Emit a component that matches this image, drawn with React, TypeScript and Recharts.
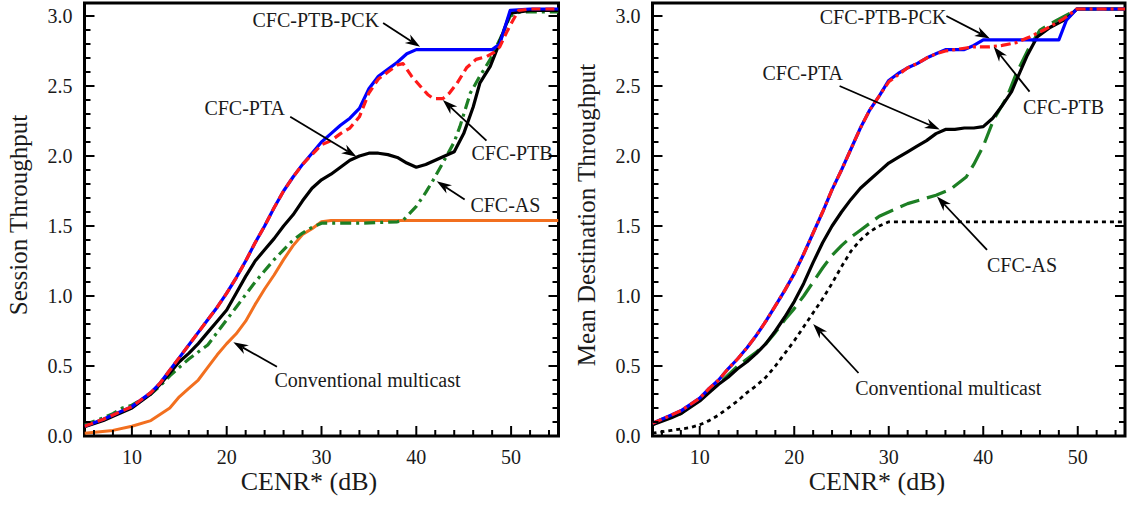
import React from 'react';
import { LineChart, Line, XAxis, YAxis, ReferenceArea, ReferenceLine, ReferenceDot, Label } from 'recharts';

type Pt = [number, number];

// left panel: session throughput vs CENR*
const sessionPck: Pt[] = [[5, 0.07], [7, 0.12], [8, 0.15], [10, 0.21], [12, 0.31], [13, 0.38], [14, 0.47], [15, 0.56], [16, 0.65], [17, 0.74], [18, 0.83], [19, 0.92], [20, 1.02], [21, 1.13], [22, 1.25], [23, 1.38], [24, 1.5], [25, 1.63], [26, 1.75], [27, 1.85], [28, 1.94], [29, 2.02], [30, 2.1], [31, 2.16], [32, 2.22], [33, 2.27], [34, 2.34], [35, 2.48], [36, 2.57], [37, 2.62], [38, 2.67], [39, 2.73], [40, 2.76], [44, 2.76], [48, 2.76], [48.8, 2.8], [49.9, 3.04], [52, 3.05], [55, 3.05]];
const sessionPtb: Pt[] = [[5, 0.07], [7, 0.12], [8, 0.15], [10, 0.21], [12, 0.31], [13, 0.38], [14, 0.47], [15, 0.56], [16, 0.65], [17, 0.74], [18, 0.83], [19, 0.92], [20, 1.02], [21, 1.13], [22, 1.25], [23, 1.38], [24, 1.5], [25, 1.63], [26, 1.75], [27, 1.85], [28, 1.94], [29, 2.01], [30, 2.08], [31, 2.11], [32, 2.16], [33, 2.2], [34, 2.28], [35, 2.45], [36, 2.55], [37, 2.6], [38, 2.65], [38.6, 2.66], [39.5, 2.57], [40.4, 2.5], [41.2, 2.44], [41.8, 2.41], [42.8, 2.41], [43.5, 2.45], [44.3, 2.52], [45.3, 2.63], [46.3, 2.69], [47.4, 2.71], [48.2, 2.74], [48.8, 2.78], [49.5, 2.88], [50.2, 2.97], [50.8, 3.04], [52, 3.05], [55, 3.05]];
const sessionPta: Pt[] = [[5, 0.066], [7, 0.11], [8, 0.14], [10, 0.2], [12, 0.3], [13, 0.37], [14, 0.45], [15, 0.53], [16, 0.59], [17, 0.66], [18, 0.74], [19, 0.82], [20, 0.9], [21, 1.02], [22, 1.14], [23, 1.25], [24, 1.33], [25, 1.41], [26, 1.5], [27, 1.58], [28, 1.68], [29, 1.77], [30, 1.83], [31, 1.87], [32, 1.92], [33, 1.97], [34, 2.0], [35, 2.02], [36, 2.02], [37, 2.01], [38, 1.99], [39, 1.95], [40, 1.92], [41, 1.94], [42, 1.97], [43, 2.0], [44, 2.03], [45, 2.16], [46, 2.35], [46.7, 2.52], [47.8, 2.64], [48.5, 2.76], [49.9, 3.02], [52, 3.04], [55, 3.04]];
const sessionAs: Pt[] = [[5, 0.08], [7, 0.13], [8, 0.16], [9, 0.2], [10, 0.22], [12, 0.3], [13, 0.36], [14, 0.43], [15, 0.49], [16, 0.55], [17, 0.6], [18, 0.65], [19, 0.74], [20, 0.83], [21, 0.92], [22, 1.01], [23, 1.1], [24, 1.18], [25, 1.26], [26, 1.33], [27, 1.4], [28, 1.45], [29, 1.49], [30, 1.52], [34, 1.52], [38, 1.53], [38.6, 1.54], [40, 1.64], [41, 1.74], [41.8, 1.83], [43.2, 2.0], [44, 2.1], [44.6, 2.21], [45.7, 2.45], [46.7, 2.57], [47.8, 2.69], [48.8, 2.83], [49.9, 3.0], [51, 3.03], [55, 3.03]];
const sessionConv: Pt[] = [[5, 0.02], [8, 0.04], [10, 0.07], [12, 0.11], [14, 0.2], [15, 0.28], [16, 0.34], [17, 0.4], [18, 0.49], [19, 0.58], [20, 0.66], [21, 0.73], [22, 0.82], [23, 0.94], [24, 1.05], [25, 1.15], [26, 1.26], [27, 1.36], [28, 1.44], [29, 1.48], [30, 1.53], [31, 1.54], [55, 1.54]];

// right panel: mean destination throughput vs CENR*
const destPck: Pt[] = [[5, 0.09], [7, 0.15], [8, 0.18], [10, 0.27], [11, 0.34], [12, 0.4], [13, 0.48], [14, 0.55], [15, 0.63], [16, 0.72], [17, 0.82], [18, 0.93], [19, 1.04], [20, 1.16], [21, 1.3], [22, 1.45], [23, 1.6], [24, 1.76], [25, 1.9], [26, 2.05], [27, 2.2], [28, 2.33], [29, 2.43], [30, 2.54], [31, 2.59], [32, 2.63], [33, 2.66], [34, 2.7], [35, 2.73], [36, 2.76], [38, 2.76], [39, 2.79], [40, 2.83], [44, 2.83], [48, 2.83], [48.8, 2.97], [49.9, 3.05], [55, 3.05]];
const destPtb: Pt[] = [[5, 0.09], [7, 0.15], [8, 0.18], [10, 0.27], [11, 0.34], [12, 0.4], [13, 0.48], [14, 0.55], [15, 0.63], [16, 0.72], [17, 0.82], [18, 0.93], [19, 1.04], [20, 1.16], [21, 1.3], [22, 1.45], [23, 1.6], [24, 1.76], [25, 1.9], [26, 2.05], [27, 2.2], [28, 2.33], [29, 2.43], [30, 2.53], [31, 2.58], [32, 2.63], [33, 2.66], [34, 2.7], [35, 2.73], [36, 2.75], [37, 2.76], [38, 2.77], [39, 2.78], [40.7, 2.78], [42, 2.79], [43.5, 2.81], [44.9, 2.85], [46.4, 2.9], [48.5, 2.98], [49.9, 3.05], [55, 3.05]];
const destPta: Pt[] = [[5, 0.08], [7, 0.13], [8, 0.16], [10, 0.25], [11, 0.31], [12, 0.37], [13, 0.42], [14, 0.48], [15, 0.53], [16, 0.59], [17, 0.66], [18, 0.75], [19, 0.85], [20, 0.96], [21, 1.09], [22, 1.24], [23, 1.38], [24, 1.5], [25, 1.6], [26, 1.69], [27, 1.77], [28, 1.83], [29, 1.89], [30, 1.95], [31, 1.99], [32, 2.03], [33, 2.07], [34, 2.11], [35, 2.16], [36, 2.19], [37, 2.19], [38, 2.2], [39, 2.2], [40, 2.21], [41, 2.27], [42, 2.36], [43, 2.46], [43.5, 2.54], [44.6, 2.71], [45.7, 2.85], [47.1, 2.92], [48.8, 2.98], [49.9, 3.05], [55, 3.05]];
const destAs: Pt[] = [[5, 0.08], [6, 0.12], [8, 0.16], [10, 0.27], [12, 0.37], [14, 0.5], [15, 0.55], [16, 0.6], [17, 0.66], [18, 0.74], [19, 0.83], [20, 0.91], [21, 1.0], [22, 1.1], [23, 1.2], [24, 1.29], [25, 1.36], [26, 1.42], [27, 1.47], [28, 1.52], [29, 1.57], [30, 1.6], [32, 1.66], [34, 1.7], [35, 1.72], [36.5, 1.76], [38.2, 1.85], [39, 1.94], [40, 2.07], [41.1, 2.26], [42.5, 2.42], [43.5, 2.59], [44.9, 2.78], [46, 2.9], [47.8, 2.97], [49.2, 3.02], [50, 3.05], [55, 3.05]];
const destConv: Pt[] = [[5, 0.02], [7, 0.04], [9, 0.06], [10, 0.08], [11, 0.11], [12, 0.15], [13, 0.2], [14, 0.25], [15, 0.31], [16, 0.36], [17, 0.42], [18, 0.5], [19, 0.59], [20, 0.68], [21, 0.78], [22, 0.88], [23, 0.98], [24, 1.09], [25, 1.21], [26, 1.32], [27, 1.4], [28, 1.46], [29, 1.5], [30, 1.53], [55, 1.53]];

const xTicks = [6, 8, 10, 12, 14, 16, 18, 20, 22, 24, 26, 28, 30, 32, 34, 36, 38, 40, 42, 44, 46, 48, 50, 52, 54];
const xLabels = [10, 20, 30, 40, 50];
const yTicks = [0, 0.1, 0.2, 0.3, 0.4, 0.5, 0.6, 0.7, 0.8, 0.9, 1.0, 1.1, 1.2, 1.3, 1.4, 1.5, 1.6, 1.7, 1.8, 1.9, 2.0, 2.1, 2.2, 2.3, 2.4, 2.5, 2.6, 2.7, 2.8, 2.9, 3.0];
const yLabels = [0, 0.5, 1.0, 1.5, 2.0, 2.5, 3.0];

const FONT = '"Liberation Serif", "Times New Roman", "DejaVu Serif", serif';
const PLOT_LEFT = 84.5;
const PLOT_BOTTOM = 436;
const Y_MAX = 3.093;

interface Series {
    name: string;
    data: Pt[];
    color: string;
    width: number;
    dash?: string;
}

interface Note {
    text: string;
    at: Pt;
    from: Pt;
    to: Pt;
}

const sessionSeries: Series[] = [
    { name: 'Conventional multicast', data: sessionConv, color: '#f26f1f', width: 3 },
    { name: 'CFC-AS', data: sessionAs, color: '#1d7f24', width: 3.2, dash: '11 5 3 5' },
    { name: 'CFC-PTA', data: sessionPta, color: '#000000', width: 3.2 },
    { name: 'CFC-PTB-PCK', data: sessionPck, color: '#0000ff', width: 3.2 },
    { name: 'CFC-PTB', data: sessionPtb, color: '#ff1a1a', width: 3.2, dash: '9 5' },
];

const destSeries: Series[] = [
    { name: 'Conventional multicast', data: destConv, color: '#000000', width: 2.8, dash: '4 4' },
    { name: 'CFC-AS', data: destAs, color: '#1d7f24', width: 3.2, dash: '20 8' },
    { name: 'CFC-PTA', data: destPta, color: '#000000', width: 3.2 },
    { name: 'CFC-PTB-PCK', data: destPck, color: '#0000ff', width: 3.2 },
    { name: 'CFC-PTB', data: destPtb, color: '#ff1a1a', width: 3.2, dash: '10 4 3 4' },
];

const sessionNotes: Note[] = [
    { text: 'CFC-PTB-PCK', at: [29.4, 2.97], from: [36.5, 2.95], to: [40.4, 2.78] },
    { text: 'CFC-PTA', at: [21.9, 2.34], from: [26.7, 2.28], to: [33.7, 1.995] },
    { text: 'CFC-PTB', at: [50.1, 2.02], from: [47.4, 2.11], to: [42.8, 2.4] },
    { text: 'CFC-AS', at: [49.4, 1.65], from: [45.1, 1.69], to: [42.15, 1.82] },
    { text: 'Conventional multicast', at: [34.85, 0.4], from: [25.3, 0.495], to: [20.7, 0.67] },
];

const destNotes: Note[] = [
    { text: 'CFC-PTB-PCK', at: [29.4, 2.99], from: [36.1, 3.0], to: [40.7, 2.84] },
    { text: 'CFC-PTA', at: [20.9, 2.59], from: [24.8, 2.5], to: [35.4, 2.19] },
    { text: 'CFC-PTB', at: [48.5, 2.35], from: [44.9, 2.46], to: [41.1, 2.78] },
    { text: 'CFC-AS', at: [44.1, 1.22], from: [40.4, 1.33], to: [35.1, 1.71] },
    { text: 'Conventional multicast', at: [36.3, 0.34], from: [26.8, 0.45], to: [22.0, 0.8] },
];

const toXY = (pts: Pt[]) => pts.map(([x, y]) => ({ x, y }));

const textStyle = (size: number): React.CSSProperties => ({ fontFamily: FONT, fontSize: size, fill: '#1a1a1a' });

const arrowShape = (p: any) => {
    const { x1, y1, x2, y2 } = p;
    const ang = Math.atan2(y2 - y1, x2 - x1);
    const c = Math.cos(ang);
    const s = Math.sin(ang);
    const L = 15;
    const W = 5;
    const bx = x2 - L * c;
    const by = y2 - L * s;
    const nx = x2 - L * 0.7 * c;
    const ny = y2 - L * 0.7 * s;
    const pts = `${x2},${y2} ${bx - W * s},${by + W * c} ${nx},${ny} ${bx + W * s},${by - W * c}`;
    return (
        <g>
            <line x1={x1} y1={y1} x2={nx} y2={ny} stroke="#000" strokeWidth={1.8} />
            <polygon points={pts} fill="#000" />
        </g>
    );
};

const noteText = (text: string) => (p: any) => (
    <text x={p.cx} y={p.cy + 7} textAnchor="middle" style={textStyle(20)}>
        {text}
    </text>
);

interface PanelProps {
    width: number;
    marginRight: number;
    series: Series[];
    notes: Note[];
    yTitle: string;
}

const Panel: React.FC<PanelProps> = ({ width, marginRight, series, notes, yTitle }) => {
    const plotRight = width - marginRight;

    const renderXTick = (props: any) => {
        const { x, payload } = props;
        const major = xLabels.includes(payload.value);
        return (
            <g>
                <line x1={x} x2={x} y1={PLOT_BOTTOM} y2={PLOT_BOTTOM - (major ? 10 : 6)} stroke="#000" strokeWidth={2} />
                {major && (
                    <text x={x} y={PLOT_BOTTOM + 28} textAnchor="middle" style={textStyle(20)}>
                        {payload.value}
                    </text>
                )}
            </g>
        );
    };

    const renderYTick = (props: any) => {
        const { y, payload } = props;
        const major = yLabels.some(v => Math.abs(v - payload.value) < 1e-6);
        const len = major ? 10 : 6;
        return (
            <g>
                <line x1={PLOT_LEFT} x2={PLOT_LEFT + len} y1={y} y2={y} stroke="#000" strokeWidth={2} />
                <line x1={plotRight} x2={plotRight - len} y1={y} y2={y} stroke="#000" strokeWidth={2} />
                {major && (
                    <text x={PLOT_LEFT - 12} y={y + 7} textAnchor="end" style={textStyle(20)}>
                        {Number(payload.value).toFixed(1)}
                    </text>
                )}
            </g>
        );
    };

    return (
        <LineChart width={width} height={508} margin={{ top: 3, right: marginRight, bottom: 0, left: 0 }}>
            <XAxis
                dataKey="x"
                type="number"
                domain={[5, 55]}
                ticks={xTicks}
                interval={0}
                height={72}
                axisLine={false}
                tickLine={false}
                tick={renderXTick}
                allowDataOverflow
            >
                <Label
                    content={() => (
                        <text x={309} y={490} textAnchor="middle" style={textStyle(26)}>
                            CENR* (dB)
                        </text>
                    )}
                />
            </XAxis>
            <YAxis
                type="number"
                domain={[0, Y_MAX]}
                ticks={yTicks}
                interval={0}
                width={PLOT_LEFT}
                axisLine={false}
                tickLine={false}
                tick={renderYTick}
                allowDataOverflow
            >
                <Label
                    content={() => (
                        <text x={27} y={215} transform="rotate(-90 27 215)" textAnchor="middle" style={textStyle(25)}>
                            {yTitle}
                        </text>
                    )}
                />
            </YAxis>
            {series.map(s => (
                <Line
                    key={s.name}
                    data={toXY(s.data)}
                    dataKey="y"
                    name={s.name}
                    type="linear"
                    stroke={s.color}
                    strokeWidth={s.width}
                    strokeDasharray={s.dash}
                    strokeLinejoin="round"
                    dot={false}
                    activeDot={false}
                    isAnimationActive={false}
                />
            ))}
            {notes.map(n => (
                <ReferenceLine
                    key={'a' + n.text}
                    segment={[{ x: n.from[0], y: n.from[1] }, { x: n.to[0], y: n.to[1] }]}
                    ifOverflow="visible"
                    shape={arrowShape}
                />
            ))}
            {notes.map(n => (
                <ReferenceDot
                    key={'t' + n.text}
                    x={n.at[0]}
                    y={n.at[1]}
                    r={0}
                    ifOverflow="visible"
                    shape={noteText(n.text)}
                />
            ))}
            <ReferenceArea x1={5} x2={55} y1={0} y2={Y_MAX} fill="none" stroke="#000" strokeWidth={3} ifOverflow="visible" />
        </LineChart>
    );
};

export default function App() {
    return (
        <div
            style={{
                position: 'absolute',
                left: 0,
                top: 0,
                width: 1127,
                height: 508,
                background: '#fff',
                overflow: 'hidden',
                fontFamily: FONT,
            }}
        >
            <div style={{ position: 'absolute', left: 0, top: 0 }}>
                <Panel width={570} marginRight={11.5} series={sessionSeries} notes={sessionNotes} yTitle="Session Throughput" />
            </div>
            <div style={{ position: 'absolute', left: 568, top: 0 }}>
                <Panel width={559} marginRight={2} series={destSeries} notes={destNotes} yTitle="Mean Destination Throughput" />
            </div>
        </div>
    );
}
